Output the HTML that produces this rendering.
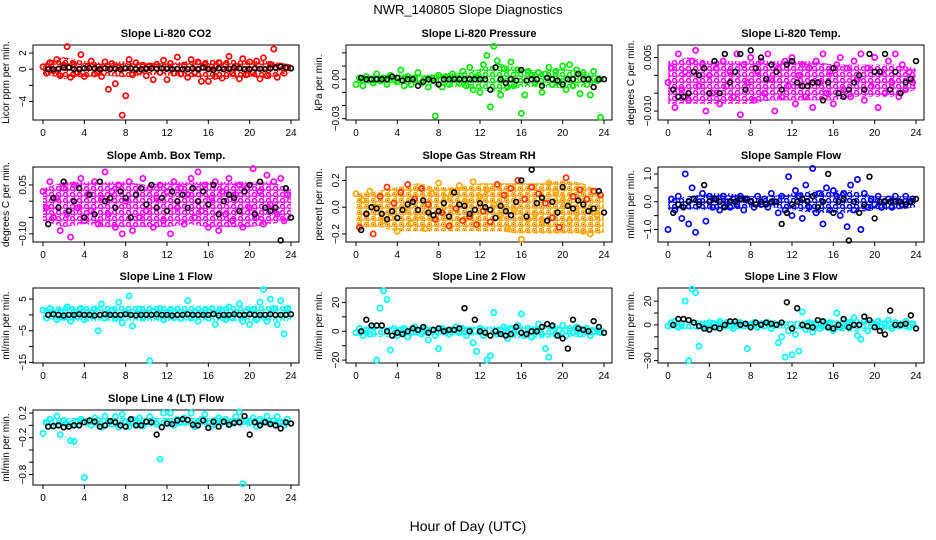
<!DOCTYPE html>
<html><head><meta charset="utf-8">
<style>
html,body{margin:0;padding:0;background:#fff;}
svg{display:block;font-family:"Liberation Sans",sans-serif;}
</style></head>
<body>
<svg id="chart" width="936" height="540" viewBox="0 0 936 540">
<defs id="defs"></defs>
<text x="468" y="14" text-anchor="middle" font-size="13">NWR_140805  Slope Diagnostics</text>
<text x="468" y="531" text-anchor="middle" font-size="14">Hour of Day (UTC)</text>
</svg>
<script>
const xTicks = [0,4,8,12,16,20,24];
const co2Color = [0.3,-0.5,0.8,-0.2,1.2,-0.8,0.5,2.8,-1.0,0.6,-0.4,1.8,-0.9,0.4,1.0,-0.6,0.3,-0.9,0.9,-2.5,0.7,-1.8,0.2,-5.7,-3.3,1.2,-0.7,0.8,-0.3,0.5,-0.8,0.4,-1.3,0.6,-0.4,1.1,-1.3,0.7,-0.5,1.5,-0.6,0.5,-1.0,1.2,-0.4,0.9,-1.5,0.6,-1.5,0.3,-0.9,0.8,-1.1,0.6,1.6,-0.5,0.4,-1.2,1.3,-0.7,0.9,-0.4,1.0,-1.2,1.4,-0.8,0.6,2.5,-1.0,0.4,-0.5,0.2];
const co2Black = [0,0,0.05,0.2,0.2,0,0,0.1,0.15,0.1,0,0.1,0,0.05,0,0.1,0.1,0,0,0.05,0.1,0.05,0.1,0.05,0,0.05,0,0,0.1,0,0.2,0,-0.1,0.1,0,0.05,0.2,0.1,0,0,0.1,0.05,0,0.1,0.2,0.3,0.2,0.1];
const co2High = [0.8,1.5,1.0,0.8,1.0,0.8,0.7,1.0,1.2,1.2,1.0,1.0,0.6];
const co2Low = [-0.6,-1.2,-1.0,-0.8,-1.0,-0.7,-0.8,-0.9,-1.2,-1.2,-1.0,-1.2,-0.3];
const presColor = [-0.004,0.001,-0.005,0.002,0,-0.003,0.004,-0.001,0.001,-0.004,0.003,0,-0.002,0.007,-0.005,0.002,-0.004,0.001,0.005,-0.003,0,-0.006,0.001,-0.028,0.003,-0.006,0.002,-0.004,0.004,0.001,-0.003,0.006,-0.005,0.009,-0.008,0.002,-0.01,0.011,0.018,-0.021,0.025,0.014,-0.012,0.008,-0.006,0.013,-0.004,0.007,-0.026,-0.012,0.006,0.003,-0.003,0.005,-0.01,0.004,0.009,-0.004,0.006,-0.002,0.01,-0.008,0.011,-0.005,0.007,-0.011,0.005,-0.004,-0.012,0.006,-0.001,-0.029];
const presBlack = [0.001,0,0,0,0,0,0.002,0.001,-0.001,0,0,-0.005,-0.002,0,-0.001,-0.004,0,0,0,0,0,0,0,0,0,-0.008,0.009,0,-0.003,0,-0.001,0.007,-0.001,0,0,-0.005,0.001,0,-0.001,-0.004,0,0,0.004,0,0,-0.006,0,0];
const presHigh = [0.002,0.003,0.004,0.003,0.004,0.005,0.008,0.012,0.008,0.006,0.008,0.006,0.002];
const presLow = [-0.003,-0.004,-0.004,-0.004,-0.005,-0.006,-0.008,-0.010,-0.006,-0.006,-0.007,-0.006,-0.002];
const tempColor = [-0.002,0.002,-0.009,0.006,-0.004,0.001,-0.007,0.004,0.007,-0.003,0.003,-0.010,0.000,-0.005,0.002,-0.008,0.004,-0.003,0.001,-0.006,0.006,-0.011,0.003,-0.002,0.005,-0.007,0.001,0.004,-0.005,0.006,-0.001,-0.010,0.002,-0.006,0.004,-0.003,0.005,-0.008,0.000,0.003,-0.006,0.002,-0.009,0.004,-0.002,0.006,-0.005,0.001,-0.008,0.003,0.005,-0.004,0.002,-0.006,0.004,-0.001,0.006,-0.007,0.002,-0.003,0.005,-0.009,0.001,-0.005,0.004,-0.002,0.006,-0.006,0.003,-0.004,0.001,-0.002];
const tempBlack = [-0.004,-0.006,-0.006,-0.005,0.001,0.000,0.002,-0.005,0.004,-0.005,0.006,-0.002,0.001,0.006,-0.004,0.007,0.002,0.005,-0.001,0.003,0.001,-0.004,0.003,0.004,-0.002,-0.003,-0.003,-0.002,-0.002,-0.007,-0.002,0.002,-0.005,-0.006,-0.004,-0.002,0.000,-0.004,0.006,0.001,0.001,0.006,-0.004,0.001,-0.005,-0.002,-0.001,0.004];
const tempHigh = [0.004,0.005,0.004,0.004,0.004,0.004,0.004,0.004,0.003,0.003,0.003,0.003,0.002];
const tempLow = [-0.008,-0.008,-0.008,-0.008,-0.008,-0.007,-0.007,-0.007,-0.007,-0.006,-0.006,-0.006,-0.004];
const boxColor = [0.03,-0.02,0.06,-0.05,0.01,-0.09,0.04,-0.04,-0.11,0.05,-0.02,0.07,-0.06,0.02,-0.03,0.06,-0.07,0.01,0.09,-0.04,0.03,-0.08,0.05,-0.10,0.00,0.06,-0.09,0.02,-0.05,0.07,-0.03,0.04,-0.08,0.01,0.05,-0.06,0.03,-0.10,0.06,-0.02,0.04,-0.07,0.02,0.07,-0.05,0.09,-0.03,0.05,-0.08,0.01,0.06,-0.09,0.03,-0.04,0.07,-0.06,0.02,0.05,-0.08,0.04,-0.02,0.10,-0.05,0.03,-0.07,0.08,-0.01,0.06,-0.04,0.07,-0.06,0.02];
const boxBlack = [-0.07,0.01,-0.02,0.06,-0.03,0.00,0.04,-0.05,0.02,-0.04,0.06,0.00,0.01,-0.02,0.03,0.01,-0.05,0.02,0.04,-0.01,0.05,-0.02,0.01,-0.03,0.03,0.00,0.02,-0.02,0.04,0.00,0.03,-0.01,0.05,-0.04,0.00,0.02,0.01,-0.03,0.03,0.05,-0.04,0.06,-0.02,-0.03,-0.02,-0.12,0.04,-0.05];
const boxHigh = [0.04,0.06,0.06,0.06,0.06,0.05,0.06,0.06,0.06,0.06,0.06,0.06,0.04];
const boxLow = [-0.06,-0.08,-0.07,-0.08,-0.08,-0.08,-0.08,-0.07,-0.08,-0.08,-0.08,-0.07,-0.06];
const rhColor = [0.10,-0.15,0.05,-0.05,0.12,-0.20,0.00,0.08,-0.10,0.15,-0.08,0.03,-0.18,0.11,-0.02,0.17,-0.12,0.06,-0.06,0.14,-0.16,0.02,0.10,-0.09,0.18,-0.04,0.07,-0.14,0.12,-0.01,0.16,-0.10,0.04,-0.07,0.19,-0.13,0.08,-0.03,0.13,-0.11,0.02,0.17,-0.06,0.09,-0.16,0.14,-0.02,0.20,-0.24,0.06,-0.09,0.15,-0.05,0.10,-0.12,0.03,0.18,-0.08,0.11,-0.15,0.05,0.22,-0.10,0.08,-0.04,0.13,-0.18,0.06,-0.20,0.12,-0.06,0.09];
const rhBlack = [-0.17,-0.05,0.00,-0.01,-0.05,-0.09,-0.03,-0.08,-0.02,0.02,0.04,-0.02,0.05,-0.04,-0.06,-0.03,0.03,-0.07,0.11,0.02,0.01,-0.05,-0.02,0.03,0.00,-0.02,-0.08,0.01,-0.03,-0.06,0.04,0.20,-0.07,0.28,0.03,0.07,-0.10,0.04,-0.04,0.15,0.01,-0.01,0.05,0.02,-0.03,-0.01,0.12,-0.04];
const rhHigh = [0.10,0.12,0.15,0.18,0.15,0.15,0.18,0.18,0.18,0.18,0.20,0.18,0.10];
const rhLow = [-0.15,-0.15,-0.18,-0.18,-0.18,-0.18,-0.18,-0.18,-0.20,-0.20,-0.20,-0.20,-0.20];
const flowColor = [-1.0,0.1,-0.3,0.2,-0.6,1.0,-0.8,0.5,-1.1,0.0,0.3,-0.7,0.2,-0.2,0.1,-0.3,0.2,0.0,-0.2,0.1,-0.1,0.2,-0.3,0.1,0.0,-0.2,0.2,-0.1,0.1,-0.2,0.3,0.0,-0.4,0.2,-0.3,0.9,-0.5,0.4,0.2,-0.6,0.6,-0.2,1.2,-0.4,0.3,-0.8,0.5,-0.3,0.4,0.2,-0.5,0.3,-0.9,0.6,-0.3,0.8,-1.0,0.3,-0.2,0.1,-0.1,0.2,-0.2,0.0,0.1,-0.2,0.2,0.0,-0.1,0.2,0.0,0.1];
const flowBlack = [-0.4,-0.1,-0.2,0.0,0.1,-0.1,0.6,0.0,0.1,0.0,-0.2,0.0,0.0,0.1,0.1,0.0,-0.1,0.0,-0.1,0.0,0.0,-0.8,-0.4,-0.1,0.0,0.1,0.0,0.2,-0.2,0.0,1.0,-0.4,0.0,0.1,-1.4,0.0,-0.4,-0.1,0.9,-0.6,0.0,0.0,0.0,0.0,0.0,-0.1,0.0,0.1];
const flowHigh = [0.1,0.2,0.3,0.3,0.2,0.2,0.3,0.4,0.4,0.4,0.2,0.2,0.2];
const flowLow = [-0.3,-0.3,-0.3,-0.3,-0.2,-0.2,-0.3,-0.4,-0.4,-0.4,-0.3,-0.3,-0.2];
const l1Color = [1.5,-1.0,2.0,0.5,-1.5,1.2,-0.8,2.5,-2.0,1.0,-0.5,2.0,-1.5,0.8,-0.2,1.8,-5.0,3.5,-1.0,0.5,1.5,-1.2,4.0,-2.5,1.0,6.0,-3.5,0.3,1.8,-1.0,0.5,-14.5,1.2,-0.6,2.0,-1.5,0.8,1.5,-0.8,1.8,-1.2,0.5,4.5,-1.0,1.2,-2.0,0.8,1.5,-1.0,2.0,-3.0,0.6,1.5,-1.5,2.5,-1.0,0.8,3.5,-2.0,1.0,-3.0,1.8,-1.5,4.0,8.0,-2.0,5.0,2.0,-3.0,4.5,-6.0,2.0];
const l1Black = [0,0.2,0,-0.2,0,0,0.2,0,0,-0.2,0,0.2,0,0,0,0.2,0,-0.2,0,0,0,0.2,0,0,-0.2,0,0,0.2,0,0,0,0,0.3,-0.2,0,0,0.2,0,0,0.2,0,0,0,0.2,0,0,0,0.2];
const l1High = [2,3,3,3,3,3,3,3,3,3,3,3,3];
const l1Low = [-1,-2,-2,-2,-2,-2,-2,-2,-2,-2,-2,-2,-2];
const l2Color = [-1,2,-3,1,-2,3,-20,16,28,22,-13,2,-3,1,2,-4,-1,3,0,-2,2,-6,1,-3,-12,2,0,-2,1,3,-1,2,-3,1,-8,-14,2,-3,-20,-17,13,-2,1,3,-5,2,-1,4,12,-3,2,-4,1,5,-2,-12,-18,3,-2,1,4,-3,2,-1,3,-2,1,2,-3,0,1,-1];
const l2Black = [0,8,4,4,4,0,-3,-1,-2,0,2,1,3,-1,1,2,0,1,1,2,16,0,8,0,-1,-3,0,-2,-3,-2,3,-1,-2,0,0,3,5,4,-3,-5,-12,8,2,1,0,7,3,-1];
const l2High = [1,3,3,3,3,3,3,4,4,4,4,4,2];
const l2Low = [-3,-4,-4,-3,-3,-3,-3,-4,-5,-5,-4,-4,-2];
const l3Color = [-1,2,3,-2,1,20,-30,30,27,-18,0,-3,2,1,-2,3,-1,2,0,-3,1,2,-1,-20,0,2,-2,1,-1,2,-3,1,-15,-10,-27,-5,-25,-8,-22,11,-4,2,-6,1,-3,3,-1,2,-5,10,-2,4,-1,2,6,-9,-12,3,-5,2,-1,3,-2,1,4,-3,2,-1,0,3,-2,1];
const l3Black = [0,5,5,4,2,-1,-3,-4,-2,-3,0,3,3,0,1,-2,2,0,2,1,0,2,19,-3,14,0,-1,-2,4,3,-2,-3,0,5,-2,0,0,7,4,-2,-5,-8,12,0,0,1,8,-3];
const l3High = [2,4,4,4,3,3,3,4,4,5,4,4,3];
const l3Low = [-3,-4,-4,-4,-3,-3,-3,-5,-5,-6,-4,-4,-3];
const l4Color = [-0.13,0.05,0.10,-0.02,0.15,-0.15,0.08,0.02,-0.25,-0.26,0.06,0.10,-0.85,0.05,0.00,0.12,0.08,-0.03,0.15,0.06,0.02,0.14,-0.03,0.18,0.05,-0.02,0.10,0.08,0.12,-0.01,0.05,0.14,0.08,0.02,-0.55,0.20,0.06,0.20,0.00,0.10,0.05,0.12,0.08,0.20,-0.02,0.06,0.10,0.18,0.04,-0.01,0.08,0.12,0.05,0.10,0.02,0.06,0.14,0.22,-0.95,0.08,0.05,0.12,-0.02,0.10,0.06,0.15,0.03,0.08,0.14,0.05,0.00,0.10];
const l4Black = [-0.02,-0.01,0.00,-0.03,-0.02,0.00,0.00,0.05,0.08,0.06,-0.02,0.00,0.07,0.05,0.00,-0.02,0.10,0.00,0.00,0.06,0.05,-0.15,-0.03,0.03,0.02,0.08,0.10,0.09,0.01,0.00,0.08,-0.04,0.06,-0.02,0.06,0.01,0.04,0.05,0.15,-0.15,0.05,0.00,0.05,0.02,0.00,-0.05,0.05,0.03];
const l4High = [0.10,0.12,0.12,0.12,0.12,0.12,0.12,0.12,0.12,0.12,0.12,0.12,0.10];
const l4Low = [0.00,-0.02,-0.02,-0.02,-0.02,-0.02,-0.02,-0.02,-0.02,-0.02,-0.02,-0.02,0.00];

const panels = [
 {name:'co2',title:'Slope Li-820 CO2',ylab:'Licor ppm per min.',col:0,row:0,min:-6.3,max:3.0,ticks:[2,0,-2,-4],labels:['2','0','','−4'],color:['#ff0000'],c:co2Color,b:co2Black,hi:co2High,lo:co2Low},
 {name:'pressure',title:'Slope Li-820 Pressure',ylab:'kPa per min.',col:1,row:0,min:-0.031,max:0.026,ticks:[0.02,0.01,0,-0.01,-0.02,-0.03],labels:['','','0.00','','','−0.03'],color:['#00ee00'],c:presColor,b:presBlack,hi:presHigh,lo:presLow},
 {name:'li820-temp',title:'Slope Li-820 Temp.',ylab:'degrees C per min.',col:2,row:0,min:-0.0125,max:0.0085,ticks:[0.005,0,-0.005,-0.01],labels:['0.005','','','−0.010'],color:['#ff00ff'],c:tempColor,b:tempBlack,hi:tempHigh,lo:tempLow},
 {name:'box-temp',title:'Slope Amb. Box Temp.',ylab:'degrees C per min.',col:0,row:1,min:-0.125,max:0.105,ticks:[0.05,0,-0.05,-0.1],labels:['0.05','','','−0.10'],color:['#ff00ff'],c:boxColor,b:boxBlack,hi:boxHigh,lo:boxLow},
 {name:'gas-rh',title:'Slope Gas Stream RH',ylab:'percent per min.',col:1,row:1,min:-0.26,max:0.3,ticks:[0.2,0,-0.2],labels:['0.2','0.0','−0.2'],color:['#ffa500','#ff3300'],c:rhColor,b:rhBlack,hi:rhHigh,lo:rhLow},
 {name:'sample-flow',title:'Slope Sample Flow',ylab:'ml/min per min.',col:2,row:1,min:-1.45,max:1.25,ticks:[1,0.5,0,-0.5,-1],labels:['1.0','','0.0','','−1.0'],color:['#0000ff'],c:flowColor,b:flowBlack,hi:flowHigh,lo:flowLow},
 {name:'line1-flow',title:'Slope Line 1 Flow',ylab:'ml/min per min.',col:0,row:2,min:-15.2,max:8.5,ticks:[5,0,-5,-10,-15],labels:['5','','−5','','−15'],color:['#00ffff'],c:l1Color,b:l1Black,hi:l1High,lo:l1Low},
 {name:'line2-flow',title:'Slope Line 2 Flow',ylab:'ml/min per min.',col:1,row:2,min:-22,max:30,ticks:[20,10,0,-10,-20],labels:['20','','0','','−20'],color:['#00ffff'],c:l2Color,b:l2Black,hi:l2High,lo:l2Low},
 {name:'line3-flow',title:'Slope Line 3 Flow',ylab:'ml/min per min.',col:2,row:2,min:-32,max:31,ticks:[20,10,0,-10,-20,-30],labels:['20','','0','','','−30'],color:['#00ffff'],c:l3Color,b:l3Black,hi:l3High,lo:l3Low},
 {name:'line4-flow',title:'Slope Line 4 (LT) Flow',ylab:'ml/min per min.',col:0,row:3,min:-0.97,max:0.25,ticks:[0.2,0,-0.2,-0.4,-0.6,-0.8],labels:['0.2','','−0.2','','','−0.8'],color:['#00ffff'],c:l4Color,b:l4Black,hi:l4High,lo:l4Low}
];
const colLeft=[33,346,658], rowTop=[45,167,288,410], BW=266, BH=75;
const svg=document.getElementById('chart');
const defs=document.getElementById('defs');
const NS='http://www.w3.org/2000/svg';
function mk(tag,attrs,parent){const e=document.createElementNS(NS,tag);for(const k in attrs)e.setAttribute(k,attrs[k]);(parent||svg).appendChild(e);return e;}
panels.forEach((p,pi)=>{
  const L=colLeft[p.col], T=rowTop[p.row];
  const g=mk('g',{});
  
  
  const xs=h=>L+10+h*(248/24);
  const ys=v=>T+BH-(v-p.min)/(p.max-p.min)*BH;
  const pat=mk('pattern',{id:'pat'+pi,width:7,height:6,patternUnits:'userSpaceOnUse'},defs);
  mk('circle',{cx:2.5,cy:2.5,r:2,fill:'none',stroke:p.color[0],'stroke-width':1.5},pat);
  mk('circle',{cx:6,cy:5.5,r:1.6,fill:'none',stroke:p.color[0],'stroke-width':1.2},pat);
  if(p.color.length>1){mk('circle',{cx:2.5,cy:2.5,r:0.8,fill:p.color[1]},pat);}
  const t=mk('text',{x:L+BW/2,y:T-8,'text-anchor':'middle','font-size':11,'font-weight':'bold'},g);
  t.textContent=p.title;
  
  
  const yl=mk('text',{transform:`translate(${L-24},${T+BH/2}) rotate(-90)`,'text-anchor':'middle','font-size':10},g);
  yl.textContent=p.ylab;
  
  
  const xa=mk('g',{},g);
  
  
  mk('line',{x1:xs(0),x2:xs(24),y1:T+BH,y2:T+BH,stroke:'#000'},xa);
  xTicks.forEach(h=>{
    mk('line',{x1:xs(h),x2:xs(h),y1:T+BH,y2:T+BH+4,stroke:'#000'},xa);
    const tl=mk('text',{x:xs(h),y:T+BH+16,'text-anchor':'middle','font-size':10},xa);
    tl.textContent=h;
    
    
  });
  const ya=mk('g',{},g);
  
  
  mk('line',{x1:L,x2:L,y1:ys(p.ticks[p.ticks.length-1]),y2:ys(p.ticks[0]),stroke:'#000'},ya);
  p.ticks.forEach((v,i)=>{
    mk('line',{x1:L-4,x2:L,y1:ys(v),y2:ys(v),stroke:'#000'},ya);
    if(p.labels[i]){
      const tl=mk('text',{transform:`translate(${L-7},${ys(v)}) rotate(-90)`,'text-anchor':'middle','font-size':10},ya);
      tl.textContent=p.labels[i];
      
      
    }
  });
  const nb=p.hi.length;
  let d='';
  p.hi.forEach((v,i)=>{d+=(i?'L':'M')+xs(i*24/(nb-1)).toFixed(1)+','+ys(v).toFixed(1);});
  for(let i=nb-1;i>=0;i--){d+='L'+xs(i*24/(nb-1)).toFixed(1)+','+ys(p.lo[i]).toFixed(1);}
  const band=mk('path',{d:d+'Z',fill:'url(#pat'+pi+')',stroke:'none'},g);
  
  
  const box=mk('rect',{x:L,y:T,width:BW,height:BH,fill:'none',stroke:'#000'},g);
  
  
  const n=p.c.length;
  p.c.forEach((v,i)=>{
    const c=mk('circle',{cx:xs(i*24/n),cy:ys(v),r:2.6,fill:'none',stroke:p.color[i%p.color.length],'stroke-width':1.7},g);
    
    
  });
  p.b.forEach((v,i)=>{
    const c=mk('circle',{cx:xs((i+1)*0.5),cy:ys(v),r:2.4,fill:'none',stroke:'#000','stroke-width':1.6},g);
    
    
  });
});
</script>
</body></html>
